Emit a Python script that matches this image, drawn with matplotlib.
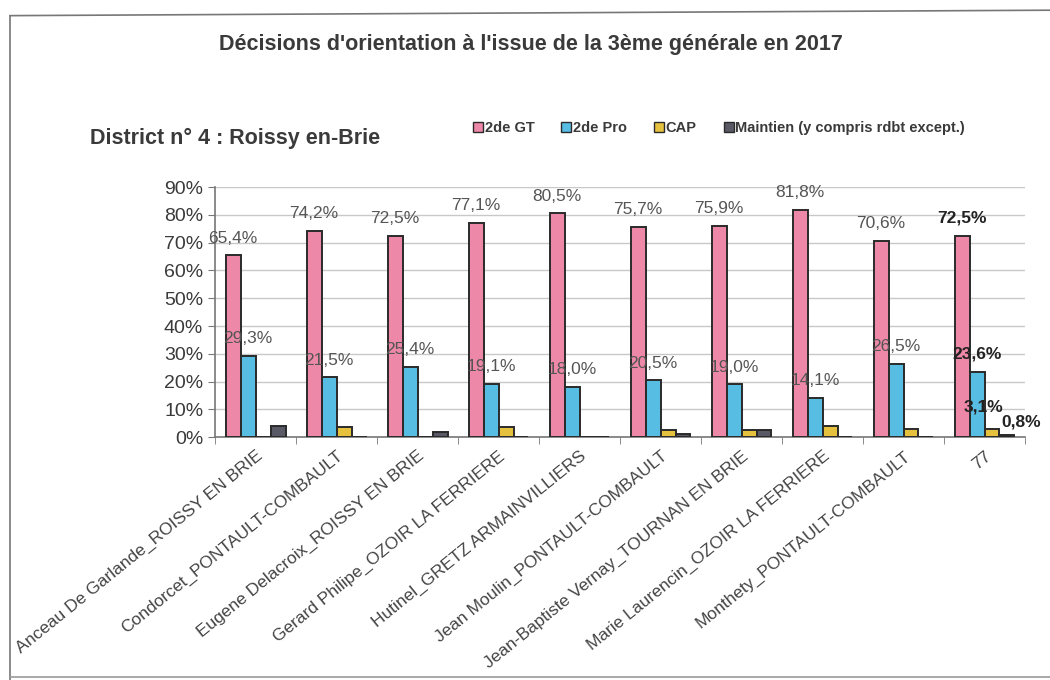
import matplotlib.pyplot as plt
import matplotlib.lines as mlines
import numpy as np

plt.rcParams['font.family'] = ['Liberation Sans', 'DejaVu Sans']

# Données
etablissements = [
    "Anceau De Garlande_ROISSY EN BRIE",
    "Condorcet_PONTAULT-COMBAULT",
    "Eugene Delacroix_ROISSY EN BRIE",
    "Gerard Philipe_OZOIR LA FERRIERE",
    "Hutinel_GRETZ ARMAINVILLIERS",
    "Jean Moulin_PONTAULT-COMBAULT",
    "Jean-Baptiste Vernay_TOURNAN EN BRIE",
    "Marie Laurencin_OZOIR LA FERRIERE",
    "Monthety_PONTAULT-COMBAULT",
    "77",
]
seconde_gt = [65.4, 74.2, 72.5, 77.1, 80.5, 75.7, 75.9, 81.8, 70.6, 72.5]
seconde_pro = [29.3, 21.5, 25.4, 19.1, 18.0, 20.5, 19.0, 14.1, 26.5, 23.6]
cap = [0.0, 3.6, 0.0, 3.8, 0.0, 2.6, 2.6, 4.1, 2.9, 3.1]
maintien = [4.2, 0.0, 2.0, 0.0, 0.0, 1.2, 2.5, 0.0, 0.0, 0.8]

series = [
    ("2de GT", seconde_gt, '#EE88A8'),
    ("2de Pro", seconde_pro, '#58BDE3'),
    ("CAP", cap, '#E5C13E'),
    ("Maintien (y compris rdbt except.)", maintien, '#5A5A66'),
]

txt = '#3a3a3a'

fig = plt.figure(figsize=(10.5, 6.8), dpi=100)
ax = fig.add_axes([0.2048, 0.357, 0.7714, 0.368])

x = np.arange(len(etablissements))
w = 0.185
# décalage des étiquettes pour la colonne "77" (CAP / Maintien)
decal_77 = {2: (-6, 10), 3: (10, 4)}
for k, (nom, vals, col) in enumerate(series):
    pos = x + w * (k - 1.5)
    ax.bar(pos, vals, width=w, color=col, edgecolor='#2a2a2a', linewidth=1.4,
           label=nom, zorder=3)
    # étiquettes de valeurs
    for i, (p, v) in enumerate(zip(pos, vals)):
        dernier = i == len(etablissements) - 1
        if k < 2 or (dernier and v > 0):
            lbl = f"{v:.1f}%".replace('.', ',')
            dx, dy = (0, 7)
            if dernier and k in decal_77:
                dx, dy = decal_77[k]
            ax.annotate(lbl, (p, v), xytext=(dx, dy), textcoords='offset points',
                        ha='center', va='bottom', fontsize=12.5,
                        color='#222222' if dernier else '#555555',
                        fontweight='bold' if dernier else 'normal',
                        zorder=5, annotation_clip=False)

ax.set_xlim(-0.5, len(etablissements) - 0.5)
ax.set_ylim(0, 90)
ax.set_yticks(np.arange(0, 91, 10))
ax.set_yticklabels([f"{v}%" for v in range(0, 91, 10)], fontsize=14, color=txt)
ax.yaxis.grid(True, color='#c8c8c8', lw=1, zorder=0)
ax.set_xticks(x)
ax.set_xticklabels(etablissements, rotation=39, ha='right', rotation_mode='anchor',
                   fontsize=12.5, color='#444444')
ax.set_xticks(np.arange(-0.5, len(etablissements), 1), minor=True)
ax.tick_params(axis='x', which='major', length=0, pad=8)
ax.tick_params(axis='x', which='minor', length=5, color='#777777', direction='out')
ax.tick_params(axis='y', length=5, color='#777777', direction='out')
for s in ['top', 'right']:
    ax.spines[s].set_visible(False)
for s in ['left', 'bottom']:
    ax.spines[s].set_color('#777777')
    ax.spines[s].set_linewidth(1.2)

# Titres
fig.text(0.506, 0.934, "Décisions d'orientation à l'issue de la 3ème générale en 2017",
         ha='center', va='center', fontsize=15.5, fontweight='bold', color=txt)
fig.text(0.086, 0.797, "District n° 4 : Roissy en-Brie",
         ha='left', va='center', fontsize=15.5, fontweight='bold', color=txt)

# Légende
handles = [mlines.Line2D([], [], marker='s', ls='none', markersize=7,
                         markerfacecolor=c, markeredgecolor='#2a2a2a', markeredgewidth=1)
           for _, _, c in series]
fig.legend(handles, [s[0] for s in series], loc='center', bbox_to_anchor=(0.685, 0.812),
           ncol=4, frameon=False, handlelength=0.6, handletextpad=0.15,
           columnspacing=1.9, prop={'size': 10.5, 'weight': 'bold'}, labelcolor=txt)

# Cadre de la page scannée
fig.add_artist(mlines.Line2D([0.0095, 0.0095], [0.0, 0.977], color='#777777', lw=1.2))
fig.add_artist(mlines.Line2D([0.0095, 1.0], [0.977, 0.985], color='#777777', lw=1.2))
fig.add_artist(mlines.Line2D([0.0095, 1.0], [0.005, 0.005], color='#999999', lw=1.2))

fig.savefig('out.png', dpi=100)
